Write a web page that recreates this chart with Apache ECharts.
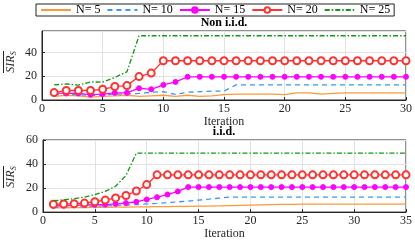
<!DOCTYPE html>
<html><head><meta charset="utf-8">
<script src="https://cdn.jsdelivr.net/npm/echarts@6/dist/echarts.min.js"></script>
<style>html,body{margin:0;padding:0;background:#fff}#c{width:415px;height:241px}</style>
</head><body><div id="c"></div>
<script>
var seriesNames = ['N= 5', 'N= 10', 'N= 15', 'N= 20', 'N= 25'];
var xTicksTop = [0, 5, 10, 15, 20, 25, 30];
var xTicksBot = [0, 5, 10, 15, 20, 25, 30, 35];
var yTicksTop = [0, 20, 40];
var yTicksBot = [0, 20, 40, 60];

var iterTop = [1,2,3,4,5,6,7,8,9,10,11,12,13,14,15,16,17,18,19,20,21,22,23,24,25,26,27,28,29,30];
var iterBot = [1,2,3,4,5,6,7,8,9,10,11,12,13,14,15,16,17,18,19,20,21,22,23,24,25,26,27,28,29,30,31,32,33,34,35];

// Non i.i.d.
var n5Top  = [3.0,4.0,3.5,2.5,3.0, 3.5,4.0,3.0,3.5,4.0, 3.0,4.0,3.0,3.5,4.5, 5.0,5.0,5.0,5.0,4.5, 6.0,6.0,5.0,5.5,6.0, 6.0,6.0,6.0,6.0,6.0];
var n10Top = [5.0,4.5,4.5,4.0,4.0, 5.0,5.0,5.5,6.5,7.0, 4.8,6.5,7.0,7.5,7.5, 12.7,12.7,12.7,12.7,12.7, 12.7,12.7,12.7,12.7,12.7, 12.7,12.7,12.7,12.7,12.7];
var n15Top = [5.7,5.5,5.5,4.5,5.0, 6.0,6.0,9.9,9.0,12.7, 15.2,19.5,19.5,19.5,19.5, 19.5,19.5,19.5,19.5,19.5, 19.5,19.5,19.5,19.5,19.5, 19.5,19.5,19.5,19.5,19.5];
var n20Top = [6.2,8.0,8.0,8.0,9.0, 11.3,12.1,19.7,22.6,33, 33,33,33,33,33, 33,33,33,33,33, 33,33,33,33,33, 33,33,33,33,33];
var n25Top = [12.7,13.5,12.5,15.2,15.0, 19.0,23.7,54,54,54, 54,54,54,54,54, 54,54,54,54,54, 54,54,54,54,54, 54,54,54,54,54];

// i.i.d.
var n5Bot  = [3.5,3.6,3.7,3.8,3.9, 4.0,4.1,4.2,4.3,4.4, 4.5,4.6,4.7,4.8,4.9, 5.0,5.2,5.4,5.6,5.8, 6.0,6.2,6.4,6.5,6.6, 6.6,6.6,6.6,6.6,6.6, 6.6,6.6,6.6,6.6,6.6];
var n10Bot = [4.0,4.2,4.4,4.6,4.9, 5.2,5.5,5.9,6.3,6.8, 7.3,7.9,8.5,9.2,10.0, 10.8,11.7,12.5,12.5,12.5, 12.5,12.5,12.5,12.5,12.5, 12.5,12.5,12.5,12.5,12.5, 12.5,12.5,12.5,12.5,12.5];
var n15Bot = [5.3,5.3,5.6,5.9,6.1, 6.3,6.8,7.5,8.6,10.5, 12.4,14.6,17.2,20.8,20.8, 20.8,20.8,20.8,20.8,20.8, 20.8,20.8,20.8,20.8,20.8, 20.8,20.8,20.8,20.8,20.8, 20.8,20.8,20.8,20.8,20.8];
var n20Bot = [6.5,6.8,7.0,7.5,8.6, 10.0,11.8,13.8,17.6,22.9, 31,31,31,31,31, 31,31,31,31,31, 31,31,31,31,31, 31,31,31,31,31, 31,31,31,31,31];
var n25Bot = [9.5,10.2,11.2,12.5,14.5, 17.3,21.5,30.5,49,49, 49,49,49,49,49, 49,49,49,49,49, 49,49,49,49,49, 49,49,49,49,49, 49,49,49,49,49];

var F = 'Liberation Serif';
var DARK = '#262626';
var colors = ['#ff9933', '#3399ff', '#ff00ff', '#ff3333', '#119911'];

function pairs(xs, ys) { return ys.map(function (v, i) { return [xs[i], v]; }); }

function xAx(gi, ticks) {
  return {
    type: 'value', gridIndex: gi, min: ticks[0], max: ticks[ticks.length - 1], interval: ticks[1] - ticks[0],
    name: 'Iteration', nameLocation: 'middle', nameGap: 15,
    nameTextStyle: { fontFamily: F, fontSize: 12, color: DARK },
    axisLine: { show: true, onZero: false, lineStyle: { color: DARK, width: 1 } },
    axisTick: { show: true, inside: true, length: 3, lineStyle: { color: DARK } },
    axisLabel: { fontFamily: F, fontSize: 12, color: DARK, margin: 3 },
    splitLine: { show: true, lineStyle: { color: '#e2e2e2', width: 1 } }
  };
}
function yAx(gi, ticks, max, showMax) {
  return {
    type: 'value', gridIndex: gi, min: ticks[0], max: max, interval: ticks[1] - ticks[0],
    axisLine: { show: true, lineStyle: { color: DARK, width: 1 } },
    axisTick: { show: true, inside: true, length: 3, lineStyle: { color: DARK } },
    axisLabel: { fontFamily: F, fontSize: 12, color: DARK, margin: 5, showMaxLabel: showMax },
    splitLine: { show: true, lineStyle: { color: '#e2e2e2', width: 1 } }
  };
}

var lineTypes = ['solid', [5, 4], 'solid', 'solid', [5, 2, 1.5, 2]];
var symbols = ['none', 'none', 'circle', 'emptyCircle', 'none'];
var symSizes = [0, 0, 5, 7, 0];
var topData = [n5Top, n10Top, n15Top, n20Top, n25Top];
var botData = [n5Bot, n10Bot, n15Bot, n20Bot, n25Bot];

var series = [];
[[topData, iterTop, 0], [botData, iterBot, 1]].forEach(function (set) {
  set[0].forEach(function (ys, k) {
    series.push({
      name: seriesNames[k], type: 'line', xAxisIndex: set[2], yAxisIndex: set[2],
      data: pairs(set[1], ys), symbol: symbols[k], symbolSize: symSizes[k],
      showSymbol: symbols[k] !== 'none', animation: false,
      lineStyle: { color: colors[k], width: 1.3, type: lineTypes[k] },
      itemStyle: { color: colors[k], borderColor: colors[k], borderWidth: 1 },
      z: 2 + k
    });
  });
});

var legendData = seriesNames.map(function (n, k) {
  if (symbols[k] === 'none') {
    return { name: n, itemStyle: { color: 'rgba(0,0,0,0)', borderColor: 'rgba(0,0,0,0)', borderWidth: 0, opacity: 0 } };
  }
  return { name: n };
});

function yLabel(cy) {
  return {
    type: 'group', x: 11, y: cy, rotation: Math.PI / 2,
    children: [
      { type: 'text', style: { text: '{a|SIR}{b|S}', align: 'center', verticalAlign: 'middle', textAlign: 'center', textVerticalAlign: 'middle',
        rich: { a: { fontFamily: F, fontStyle: 'italic', fontSize: 12, fill: DARK, color: DARK },
                b: { fontFamily: F, fontStyle: 'italic', fontSize: 8, fill: DARK, color: DARK, padding: [5, 0, 0, 0] } } } },
      { type: 'line', shape: { x1: -11, y1: -7.5, x2: 11, y2: -7.5 }, style: { stroke: DARK, lineWidth: 1 } }
    ]
  };
}
function titleText(txt, cy) {
  return { type: 'text', x: 224, y: cy, style: { text: txt, align: 'center', verticalAlign: 'middle', textAlign: 'center', textVerticalAlign: 'middle',
    font: 'bold 12px "Liberation Serif"', fill: '#000' } };
}

var chart = echarts.init(document.getElementById('c'), null, { renderer: 'canvas' });
chart.setOption({
  animation: false,
  backgroundColor: '#fff',
  color: colors,
  legend: {
    data: legendData, left: 36, top: 4, orient: 'horizontal',
    itemWidth: 30, itemHeight: 7, itemGap: 6, padding: [0, 4],
    borderColor: '#222', borderWidth: 1, backgroundColor: '#fff',
    textStyle: { fontFamily: F, fontSize: 12, color: '#000' }
  },
  grid: [
    { left: 42, top: 31, right: 9, bottom: 141, show: true, borderColor: DARK, borderWidth: 1, backgroundColor: 'transparent' },
    { left: 43, top: 140, right: 8.5, bottom: 26, show: true, borderColor: DARK, borderWidth: 1, backgroundColor: 'transparent' }
  ],
  xAxis: [xAx(0, xTicksTop), xAx(1, xTicksBot)],
  yAxis: [yAx(0, yTicksTop, 58, false), yAx(1, yTicksBot, 60, true)],
  series: series,
  graphic: [titleText('Non i.i.d.', 23), titleText('i.i.d.', 132), yLabel(62), yLabel(177)]
});
</script></body></html>
